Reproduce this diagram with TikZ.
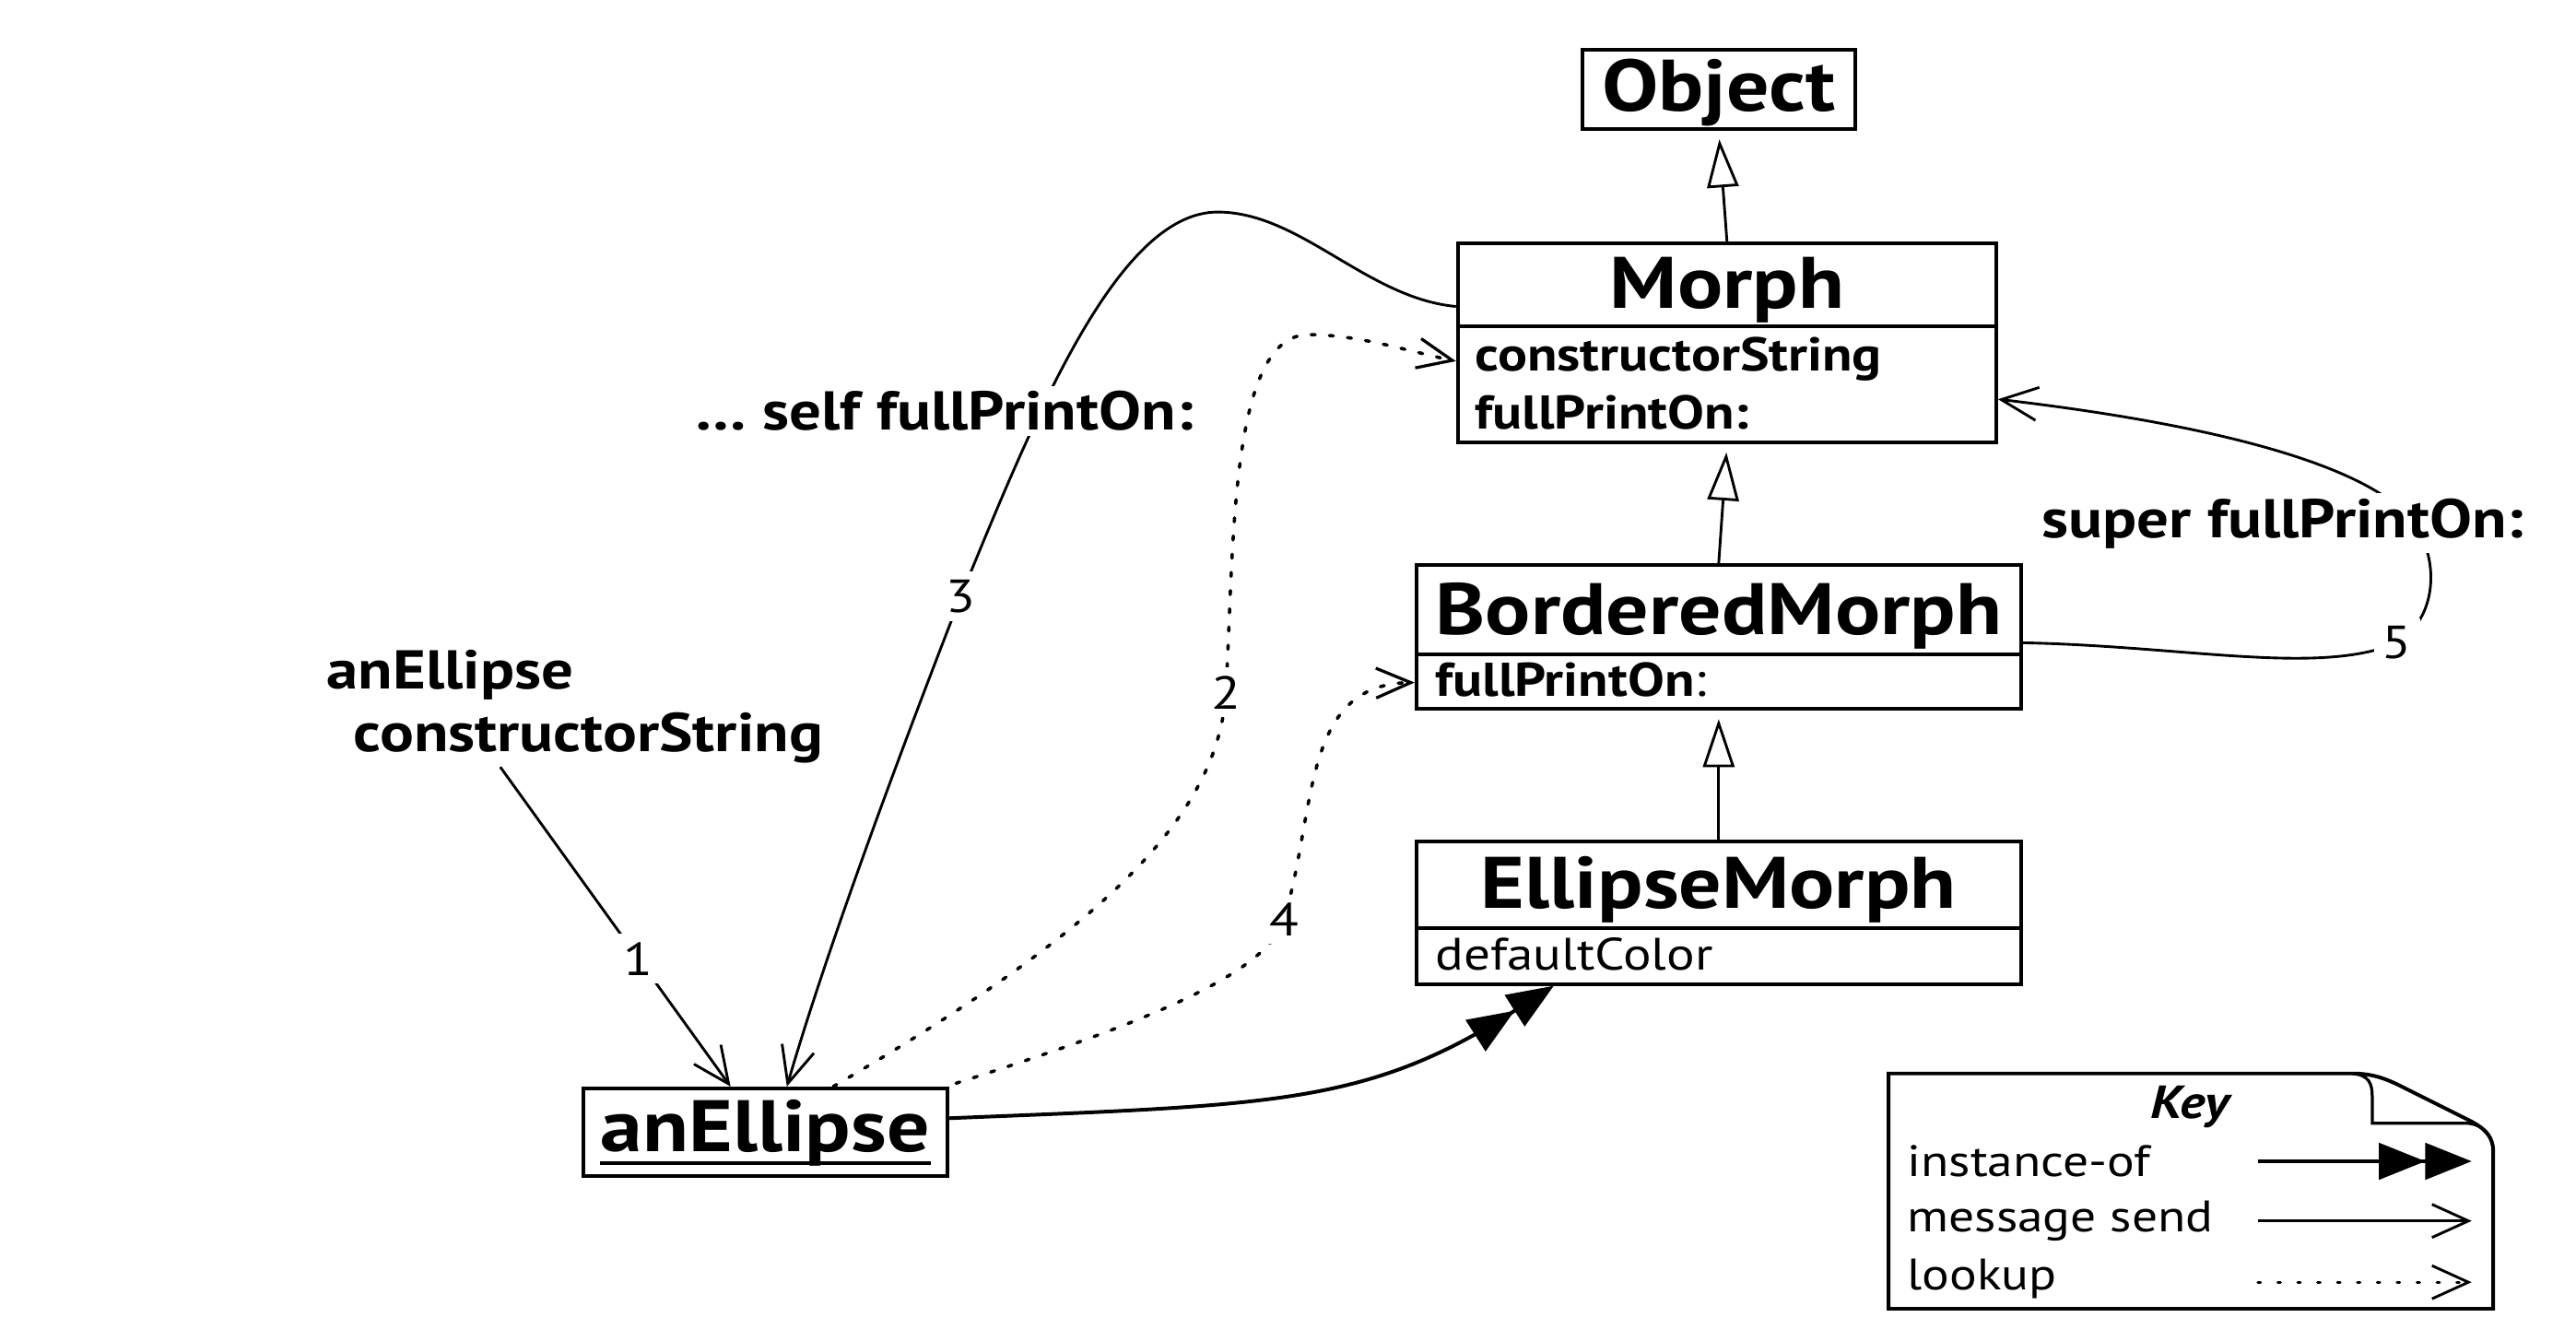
\documentclass[tikz,border=0pt]{standalone}
\usepackage{fontspec}
\setmainfont{PT Sans}[FakeStretch=1.16]
\usetikzlibrary{arrows.meta,calc}
\begin{document}
\begin{tikzpicture}[x=0.5pt,y=-0.5pt,
  box/.style={draw,line width=1.1pt,inner sep=0pt},
  ttl/.style={font=\fontsize{22}{26}\selectfont\bfseries,inner sep=0pt,anchor=base},
  mem/.style={font=\fontsize{14.3}{16}\selectfont,inner sep=0pt,anchor=base west},
  lbl/.style={font=\fontsize{16.5}{19}\selectfont\bfseries,inner sep=1.5pt,fill=white},
  num/.style={font=\fontsize{14}{16}\selectfont,fill=white,inner sep=2.5pt},
  conn/.style={line width=0.8pt},
  msg/.style={conn,-{Straight Barb[length=11pt,width=10pt,line width=0.8pt]}},
  lkp/.style={line width=1pt,line cap=round,dash pattern=on 1.2pt off 4.3pt,-{Straight Barb[length=10.5pt,width=9pt,line width=0.9pt]}},
  inh/.style={conn,-{Triangle[open,length=14.5pt,width=9.5pt,line width=0.8pt]},shorten >=2.5pt},
  inst/.style={line width=1.1pt,-{Triangle[length=14pt,width=11pt]Triangle[length=14pt,width=11pt]}},
  keytxt/.style={font=\fontsize{13.3}{16}\selectfont,inner sep=0pt,anchor=west},
]
\useasboundingbox (0,0) rectangle (1555,809);

% classes
\node[box,minimum width=82.5pt,minimum height=24pt] (object) at (1037.5,54) {};
\node[ttl] (objectT) at (1037.5,67) {Object};

\node[box,minimum width=162.5pt,minimum height=60pt] (morph) at (1042.5,207) {};
\draw[line width=1.1pt] (880,197) -- (1205,197);
\node[ttl] (morphT) at (1042.5,186) {Morph};
\node[mem] (morphM1) at (890,224) {\bfseries constructorString};
\node[mem] (morphM2) at (890,259) {\bfseries fullPrintOn:};

\node[box,minimum width=182.5pt,minimum height=43.5pt] (bm) at (1037.5,384.5) {};
\draw[line width=1.1pt] (855,395) -- (1220,395);
\node[ttl] (bmT) at (1037.5,383) {BorderedMorph};
\node[mem] (bmM1) at (866,420.5) {\bfseries fullPrintOn\mdseries:};

\node[box,minimum width=182.5pt,minimum height=43pt] (em) at (1037.5,551) {};
\draw[line width=1.1pt] (855,560) -- (1220,560);
\node[ttl] (emT) at (1037.5,548.5) {EllipseMorph};
\node[mem,font=\fontsize{13.7}{16}\selectfont] (emM1) at (866,585.5) {defaultColor};

\node[box,minimum width=110pt,minimum height=26.5pt] (ae) at (462,683.5) {};
\node[ttl] (aeT) at (462,695) {anEllipse};
\draw[line width=1.1pt] ($(aeT.base west)+(0,7)$) -- ($(aeT.base east)+(0,7)$);

% inheritance
\draw[inh] (morph.north) -- (object.south);
\draw[inh] (bm.north) -- (morph.south);
\draw[inh] (em.north) -- (bm.south);

% instance-of
\draw[inst] ($(ae.east)+(0,-8.5)$) .. controls (770,667) and (825,667) .. ($(em.south west)+(84,0)$);

% message 1
\node[align=left,anchor=north west,inner sep=0pt,font=\fontsize{16.5}{19}\selectfont\bfseries] (lab1) at (197,392) {anEllipse\\\hspace*{8pt}constructorString};
\coordinate (m1s) at (302,463);
\draw[msg] (m1s) -- node[num,pos=0.6]{1} ($(ae.north)+(-21,0)$);

% message 3
\draw[msg] ($(morph.west)+(0,-22)$) .. controls (825,180) and (785,128) .. (735,128)
  .. controls (675,128) and (625,250) .. (580,360) node[num]{3}
  .. controls (545,450) and (500,570) .. ($(ae.north)+(13,0)$);
\node[lbl] (lab3) at (570,248) {… self fullPrintOn:};

% lookup 2
\draw[lkp] ($(ae.north)+(41,0)$) .. controls (650,570) and (735,500) .. (740,418) node[num]{2}
  .. controls (745,330) and (742,202) .. (790,202)
  .. controls (820,202) and (850,212) .. ($(morph.west)+(0,11)$);

% lookup 4
\draw[lkp] ($(ae.north east)+(4,-2)$) .. controls (690,618) and (765,588) .. (775,555) node[num]{4}
  .. controls (795,490) and (785,413) .. ($(bm.west)+(0,27.5)$);

% message 5
\draw[msg] ($(bm.east)+(0,3.5)$) .. controls (1320,390) and (1400,408) .. (1447,388) node[num]{5}
  .. controls (1472,372) and (1470,340) .. (1462,325)
  .. controls (1452,295) and (1385,262) .. ($(morph.east)+(0,34)$);
\node[lbl] (lab5) at (1378,316) {super fullPrintOn:};

% key
\draw[line width=1.1pt] (1140,648) -- (1420,648) .. controls (1432,648) and (1440,651) .. (1450,656) -- (1490,676) .. controls (1500,681) and (1505,686) .. (1505,695) -- (1505,790) -- (1140,790) -- cycle;
\draw[line width=0.9pt] (1420,648) .. controls (1430,649) and (1432,654) .. (1432,662) -- (1432,678) -- (1488,678) .. controls (1498,678) and (1505,685) .. (1505,695);
\node[font=\fontsize{14}{16}\selectfont\bfseries\itshape,inner sep=0pt] (keyT) at (1322,668) {Key};
\node[keytxt] (k1) at (1151,701) {instance-of};
\node[keytxt] (k2) at (1151,737) {message send};
\node[keytxt] (k3) at (1151,772) {lookup};
\coordinate (k1a) at (1363,701); \coordinate (k1b) at (1492,701);
\coordinate (k2a) at (1363,737); \coordinate (k2b) at (1492,737);
\coordinate (k3a) at (1363,774); \coordinate (k3b) at (1492,774);
\draw[inst,line width=0.9pt] (k1a) -- (k1b);
\draw[msg] (k2a) -- (k2b);
\draw[lkp,line width=0.8pt,dash pattern=on 0.8pt off 5.2pt,-{Straight Barb[length=11pt,width=10pt,line width=0.8pt]}] (k3a) -- (k3b);
\end{tikzpicture}
\end{document}
